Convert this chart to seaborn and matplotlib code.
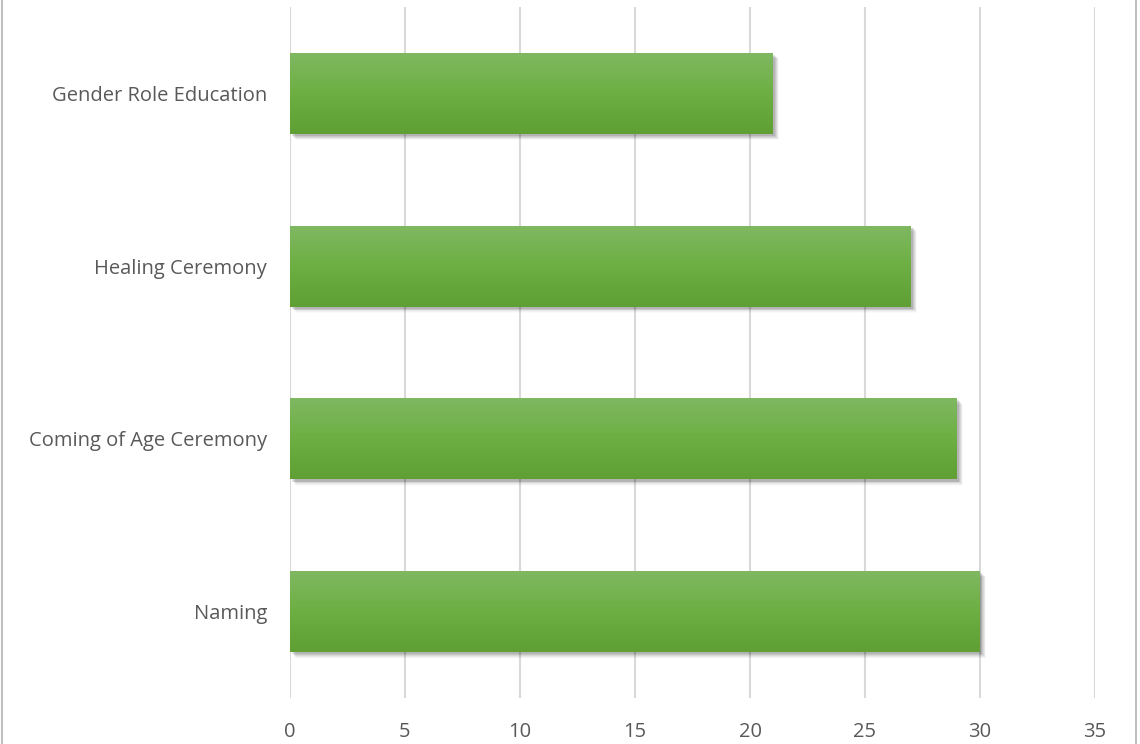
import numpy as np
import pandas as pd
import matplotlib
matplotlib.use("Agg")
import matplotlib.pyplot as plt
import seaborn as sns
from matplotlib.colors import LinearSegmentedColormap
from matplotlib.patches import Rectangle
from matplotlib.lines import Line2D
import matplotlib.transforms as mtransforms

categories = ["Gender Role Education", "Healing Ceremony", "Coming of Age Ceremony", "Naming"]
values = [21, 27, 29, 30]
x_ticks = [0, 5, 10, 15, 20, 25, 30, 35]

sns.set_theme(style="white")
plt.rcParams['font.family'] = ['Open Sans', 'DejaVu Sans']

df = pd.DataFrame({"category": categories, "value": values})

fig = plt.figure(figsize=(11.4, 7.44), dpi=100)
ax = fig.add_axes([290/1140, 1 - 698/744, (1095 - 290)/1140, (698 - 7)/744])

sns.barplot(data=df, y="category", x="value", order=categories, color="#6aab44",
            width=0.47, ax=ax, zorder=3, saturation=1, linewidth=0, edgecolor="none")

cmap = LinearSegmentedColormap.from_list("g", ["#80b862", "#6daf43", "#5f9f33"])
grad = np.linspace(0, 1, 256).reshape(-1, 1)
for p in list(ax.patches):
    x0, y0 = p.get_x(), p.get_y()
    w, h = p.get_width(), p.get_height()
    # soft shadow, offset in pixels (points)
    for i, a in enumerate([0.10, 0.08, 0.06, 0.045, 0.03, 0.02]):
        tr = mtransforms.offset_copy(ax.transData, fig=fig, x=1.5 + i * 0.6, y=-(1.5 + i * 0.6), units="points")
        sh = Rectangle((x0, y0), w, h, facecolor="black", alpha=a, edgecolor="none",
                       zorder=2, transform=tr)
        ax.add_patch(sh)
    im = ax.imshow(grad, cmap=cmap, aspect="auto", extent=(x0, x0 + w, y0 + h, y0),
                   zorder=4)
    im.set_clip_path(p)

ax.set_xlim(0, 35)
ax.set_ylim(3.5, -0.5)
ax.set_xticks(x_ticks)
ax.set_xticklabels([str(t) for t in x_ticks])
ax.xaxis.grid(True, color="#d9d9d9", linewidth=1.5, zorder=0)
ax.set_axisbelow(True)
for s in ax.spines.values():
    s.set_visible(False)
ax.set_xlabel("")
ax.set_ylabel("")
ax.tick_params(axis="x", length=0, pad=17, labelsize=14.5, labelcolor="#595959")
ax.tick_params(axis="y", length=0, pad=16.5, labelsize=14.5, labelcolor="#595959")

fig.add_artist(Line2D([2/1140, 2/1140], [0, 1], color="#bfbfbf", linewidth=1.5, transform=fig.transFigure))
fig.add_artist(Line2D([1136/1140, 1136/1140], [0, 1], color="#bfbfbf", linewidth=1.5, transform=fig.transFigure))

fig.savefig("out.png", dpi=100, facecolor="white")
